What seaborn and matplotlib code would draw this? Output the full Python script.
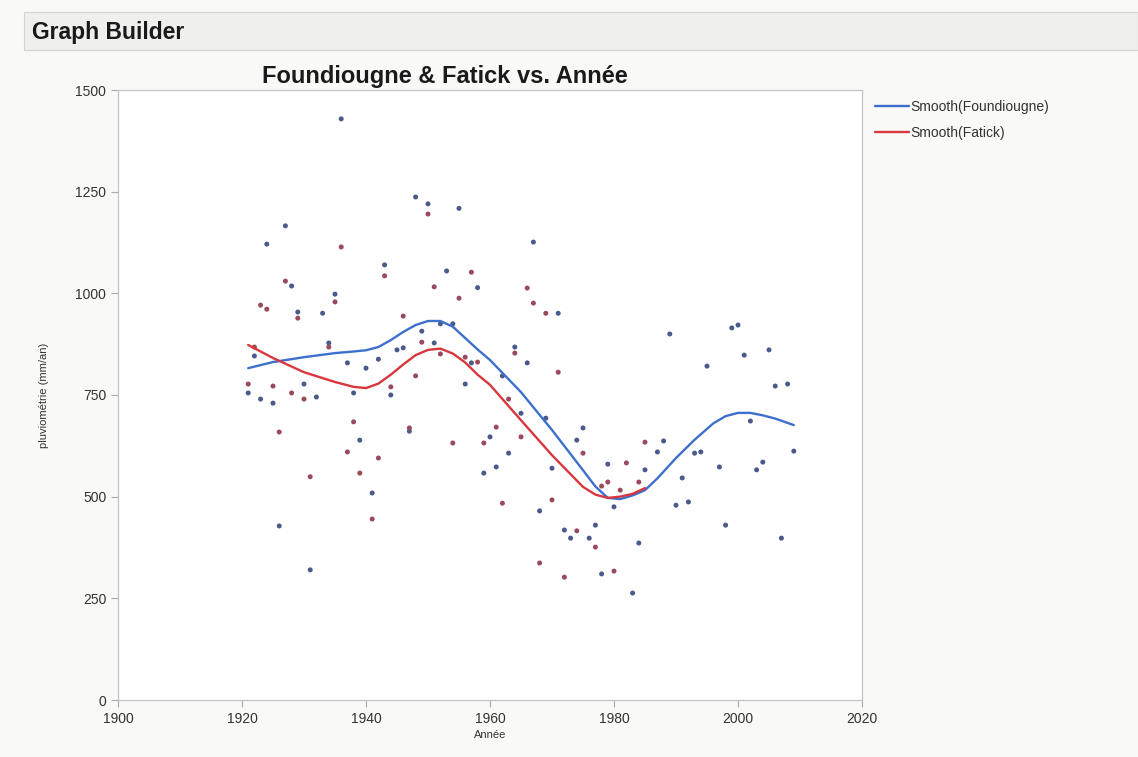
import numpy as np
import pandas as pd
import seaborn as sns
import matplotlib.pyplot as plt

# Foundiougne rainfall (mm/an)
fdg_years = [1921, 1922, 1923, 1924, 1925, 1926, 1927, 1928, 1929, 1930, 1931, 1932, 1933, 1934,
             1935, 1936, 1937, 1938, 1939, 1940, 1941, 1942, 1943, 1944, 1945, 1946, 1947, 1948,
             1949, 1950, 1951, 1952, 1953, 1954, 1955, 1956, 1957, 1958, 1959, 1960, 1961, 1962,
             1963, 1964, 1965, 1966, 1967, 1968, 1969, 1970, 1971, 1972, 1973, 1974, 1975, 1976,
             1977, 1978, 1979, 1980, 1983, 1984, 1985, 1987, 1988, 1989, 1990, 1991, 1992, 1993,
             1994, 1995, 1997, 1998, 1999, 2000, 2001, 2002, 2003, 2004, 2005, 2006, 2007, 2008, 2009]
fdg_values = [755, 846, 740, 1121, 730, 428, 1166, 1018, 954, 777, 320, 745, 951, 878,
              998, 1429, 829, 755, 639, 816, 509, 838, 1070, 750, 861, 866, 661, 1237,
              907, 1220, 878, 925, 1055, 925, 1209, 777, 829, 1014, 558, 647, 573, 797,
              607, 868, 705, 829, 1126, 465, 693, 570, 951, 418, 398, 639, 669, 398,
              430, 310, 580, 475, 263, 386, 566, 610, 637, 900, 479, 546, 487, 607,
              610, 821, 573, 430, 915, 922, 848, 686, 566, 585, 861, 772, 398, 777, 612]

# Fatick rainfall (mm/an)
ftk_years = [1921, 1922, 1923, 1924, 1925, 1926, 1927, 1928, 1929, 1930, 1931, 1934, 1935, 1936,
             1937, 1938, 1939, 1941, 1942, 1943, 1944, 1946, 1947, 1948, 1949, 1950, 1951, 1952,
             1954, 1955, 1956, 1957, 1958, 1959, 1961, 1962, 1963, 1964, 1965, 1966, 1967, 1968,
             1969, 1970, 1971, 1972, 1974, 1975, 1977, 1978, 1979, 1980, 1981, 1982, 1984, 1985]
ftk_values = [777, 868, 971, 961, 772, 659, 1030, 755, 939, 740, 549, 868, 979, 1114,
              610, 684, 558, 445, 595, 1043, 770, 944, 669, 797, 880, 1195, 1016, 851,
              632, 988, 843, 1052, 831, 632, 671, 484, 740, 853, 647, 1013, 976, 337,
              951, 492, 806, 302, 416, 607, 376, 526, 536, 317, 516, 583, 536, 634]

# smoother curves as drawn on the chart
smooth_fdg_years = [1921, 1925, 1930, 1935, 1938, 1940, 1942, 1944, 1946, 1948, 1950, 1952, 1954,
                    1956, 1958, 1960, 1965, 1970, 1975, 1977, 1979, 1981, 1983, 1985, 1987, 1990,
                    1993, 1996, 1998, 2000, 2002, 2004, 2006, 2009]
smooth_fdg = [816, 831, 843, 853, 857, 860, 868, 885, 905, 922, 932, 932, 918,
              890, 862, 836, 757, 664, 565, 525, 497, 494, 503, 516, 545, 595,
              640, 680, 698, 706, 706, 700, 692, 676]
smooth_ftk_years = [1921, 1925, 1930, 1935, 1938, 1940, 1942, 1944, 1946, 1948, 1950, 1952, 1954,
                    1956, 1958, 1960, 1965, 1970, 1975, 1977, 1979, 1981, 1983, 1985]
smooth_ftk = [873, 841, 806, 782, 770, 767, 778, 800, 825, 848, 861, 864, 852,
              830, 800, 775, 688, 602, 524, 505, 497, 500, 507, 521]

blue = '#3d6fcd'
red = '#d9363e'

sns.set_style('white')
plt.rcParams['font.family'] = ['Liberation Sans', 'DejaVu Sans']

fig = plt.figure(figsize=(11.38, 7.57), dpi=100, facecolor='#f9f9f7')
ax = fig.add_axes([118 / 1138, 1 - 700 / 757, (862 - 118) / 1138, (700 - 90) / 757])
ax.set_facecolor('white')

# header bar
fig.patches.append(plt.Rectangle((24 / 1138, 1 - 50 / 757), 1114 / 1138, 38 / 757,
                                 transform=fig.transFigure, facecolor='#efefed',
                                 edgecolor='#d4d4d2', lw=0.8, zorder=0))
fig.text(32 / 1138, 1 - 32 / 757, 'Graph Builder', fontsize=16.5, fontweight='bold',
         va='center', ha='left', color='#1a1a1a')

pts = pd.concat([
    pd.DataFrame({'Année': fdg_years, 'val': fdg_values, 'serie': 'Foundiougne'}),
    pd.DataFrame({'Année': ftk_years, 'val': ftk_values, 'serie': 'Fatick'}),
])
sns.scatterplot(data=pts, x='Année', y='val', hue='serie',
                palette={'Foundiougne': '#4a5a8a', 'Fatick': '#9a4a5a'},
                s=13, marker='o', edgecolor='none', legend=False, ax=ax, zorder=3)

smooth = pd.concat([
    pd.DataFrame({'Année': smooth_fdg_years, 'val': smooth_fdg, 'serie': 'Smooth(Foundiougne)'}),
    pd.DataFrame({'Année': smooth_ftk_years, 'val': smooth_ftk, 'serie': 'Smooth(Fatick)'}),
])
sns.lineplot(data=smooth, x='Année', y='val', hue='serie',
             palette={'Smooth(Foundiougne)': blue, 'Smooth(Fatick)': red},
             lw=1.7, ax=ax, zorder=4)

ax.set_xlim(1900, 2020)
ax.set_ylim(0, 1500)
ax.set_xticks(range(1900, 2021, 20))
ax.set_yticks(range(0, 1501, 250))
ax.tick_params(axis='both', labelsize=10, colors='#333333', length=5, direction='out',
               color='#aaaaaa', width=0.8, bottom=True, left=True)
for sp in ax.spines.values():
    sp.set_color('#c4c4c4')
    sp.set_linewidth(0.9)

ax.set_xlabel('Année', fontsize=8, color='#333333', labelpad=3)
ax.set_ylabel('pluviométrie (mm/an)', fontsize=8, color='#333333', labelpad=19)
ax.set_title('Foundiougne & Fatick vs. Année', fontsize=17, fontweight='bold',
             color='#1a1a1a', x=0.44, pad=5)

leg = ax.legend(loc='upper left', bbox_to_anchor=(1.005, 1.0), frameon=False,
                fontsize=10, handlelength=2.4, handletextpad=0.1, borderaxespad=0.3,
                labelspacing=0.9)
for t in leg.get_texts():
    t.set_color('#333333')

fig.savefig('out.png', dpi=100, facecolor=fig.get_facecolor())
